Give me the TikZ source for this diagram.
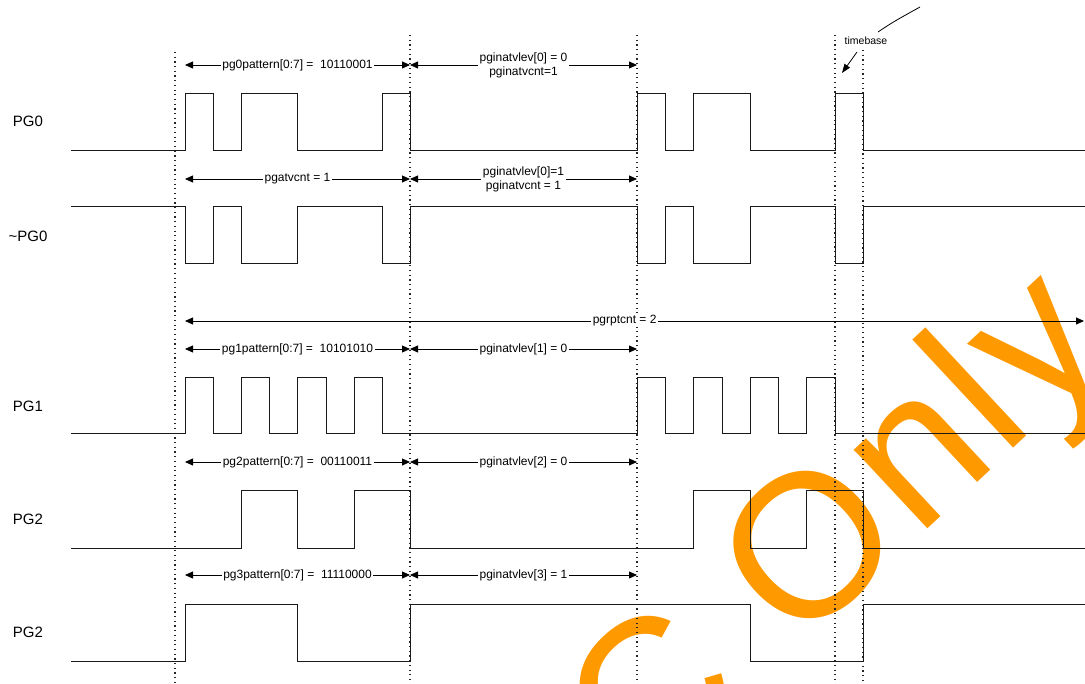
\documentclass[tikz,border=0pt]{standalone}
\usepackage{fontspec}
\setmainfont{Liberation Sans}
\newfontfamily\wmfont[LetterSpace=2.5]{Liberation Sans}
\usetikzlibrary{arrows.meta}
\definecolor{wm}{RGB}{255,153,0}
\begin{document}
\begin{tikzpicture}[x=1pt,y=-1pt,
  sig/.style={line width=1pt, line join=miter, black!90},
  gridline/.style={line width=1.1pt, dash pattern=on 1.2pt off 3.5pt, black!85},
  dim/.style={line width=0.8pt, {Triangle[length=8pt,width=7pt]}-{Triangle[length=8pt,width=7pt]}},
  lbl/.style={fill=white, inner xsep=1.5pt, inner ysep=1pt, font=\fontsize{12}{14}\selectfont, align=center},
  sname/.style={font=\fontsize{15}{18}\selectfont, inner sep=0pt},
  wmtext/.style={text=wm, font=\wmfont\fontsize{204}{204}\selectfont, rotate=43, anchor=base west, inner sep=0pt},
]
\useasboundingbox (0,0) rectangle (1085,684);

% watermark
\node[wmtext] (wmC) at (642.9,794.3) {C};
\node[wmtext] (wmO) at (797.2,650.4) {Only};

% dotted time markers
\draw[gridline] (175,52) -- (175,684);
\draw[gridline] (410,35) -- (410,684);
\draw[gridline] (637,35) -- (637,684);
\draw[gridline] (835,35) -- (835,684);
\draw[gridline] (863,50) -- (863,684);

% signal names
\node[sname] (nPG0) at (28,121) {PG0};
\node[sname] (nNPG0) at (28,236) {\char`~PG0};
\node[sname] (nPG1) at (28,406) {PG1};
\node[sname] (nPG2) at (28,519) {PG2};
\node[sname] (nPG3) at (28,632) {PG2};

% waveforms
\draw[sig] (71,151) -| (185,94) -| (213,151) -| (241,94) -| (297.5,151) -| (382,94) -| (410,151)
  -| (637,94) -| (665,151) -| (693.5,94) -| (750,151) -| (835,94) -| (863,151) -- (1085,151);
\draw[sig] (71,207) -| (185,264) -| (213,207) -| (241,264) -| (297.5,207) -| (382,264) -| (410,207)
  -| (637,264) -| (665,207) -| (693.5,264) -| (750,207) -| (835,264) -| (863,207) -- (1085,207);
\draw[sig] (71,434) -| (185,378) -| (213,434) -| (241,378) -| (269,434) -| (297.5,378) -| (326,434) -| (354,378) -| (382,434)
  -| (637,378) -| (665,434) -| (693.5,378) -| (722,434) -| (750,378) -| (778,434) -| (806.5,378) -| (835,434) -- (1085,434);
\draw[sig] (71,548) -| (241,491) -| (297.5,548) -| (354,491) -| (410,548)
  -| (693.5,491) -| (750,548) -| (806.5,491) -| (863,548) -- (1085,548);
\draw[sig] (71,661) -| (185,604) -| (297.5,661) -| (410,604)
  -| (750,661) -| (863,604) -- (1085,604);

% dimension arrows
\coordinate (r0a) at (185,65);  \coordinate (r0b) at (410,65);  \coordinate (r0c) at (637,65);
\coordinate (r1a) at (185,179); \coordinate (r1b) at (410,179); \coordinate (r1c) at (637,179);
\coordinate (rpa) at (185,321); \coordinate (rpb) at (1084,321);
\coordinate (r2a) at (185,349); \coordinate (r2b) at (410,349); \coordinate (r2c) at (637,349);
\coordinate (r3a) at (185,462); \coordinate (r3b) at (410,462); \coordinate (r3c) at (637,462);
\coordinate (r4a) at (185,575); \coordinate (r4b) at (410,575); \coordinate (r4c) at (637,575);

\draw[dim] (r0a) -- (r0b) node[lbl, midway] (l0a) {pg0pattern[0:7] = \ 10110001};
\draw[dim] (r0b) -- (r0c) node[lbl, midway] (l0b) {pginatvlev[0] = 0\\pginatvcnt=1};
\draw[dim] (r1a) -- (r1b) node[lbl, midway] (l1a) {pgatvcnt = 1};
\draw[dim] (r1b) -- (r1c) node[lbl, midway] (l1b) {pginatvlev[0]=1\\pginatvcnt = 1};
\draw[dim] (rpa) -- (rpb) node[lbl, pos=0.489] (lp) {pgrptcnt = 2};
\draw[dim] (r2a) -- (r2b) node[lbl, midway] (l2a) {pg1pattern[0:7] = \ 10101010};
\draw[dim] (r2b) -- (r2c) node[lbl, midway] (l2b) {pginatvlev[1] = 0};
\draw[dim] (r3a) -- (r3b) node[lbl, midway] (l3a) {pg2pattern[0:7] = \ 00110011};
\draw[dim] (r3b) -- (r3c) node[lbl, midway] (l3b) {pginatvlev[2] = 0};
\draw[dim] (r4a) -- (r4b) node[lbl, midway] (l4a) {pg3pattern[0:7] = \ 11110000};
\draw[dim] (r4b) -- (r4c) node[lbl, midway] (l4b) {pginatvlev[3] = 1};

% timebase callout
\node[font=\fontsize{10.5}{12}\selectfont, inner sep=1pt] (tb) at (866,41) {timebase};
\coordinate (tbtip) at (842,73);
\coordinate (tbfar) at (920,7);
\draw[line width=0.8pt, -{Triangle[length=9pt,width=6.5pt]}] (857,52) -- (tbtip);
\draw[line width=0.8pt] (878,32) .. controls (893,22) .. (tbfar);
\end{tikzpicture}
\end{document}
